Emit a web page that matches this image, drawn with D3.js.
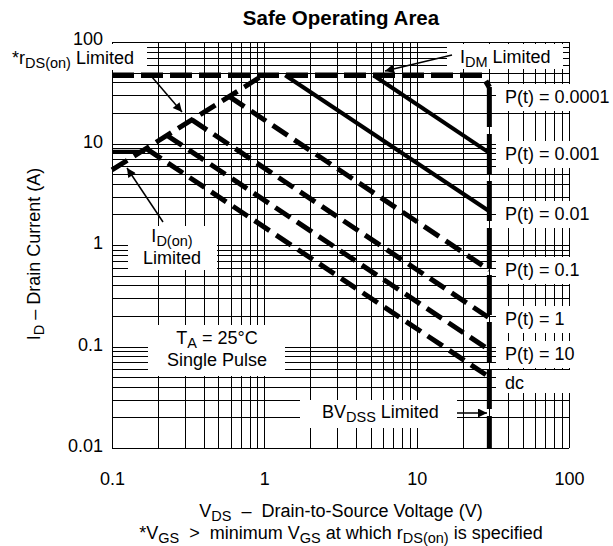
<!DOCTYPE html>
<html>
<head>
<meta charset="utf-8">
<title>Safe Operating Area</title>
<script src="https://cdn.jsdelivr.net/npm/d3@7"></script>
<style>
  body{margin:0;background:#fff;}
  svg text{font-family:"Liberation Sans",Arial,Helvetica,sans-serif;fill:#000;white-space:pre;}
  .grid line{stroke:#000;stroke-width:1;shape-rendering:crispEdges;}
</style>
</head>
<body>
<svg id="chart" width="613" height="546"></svg>
<script>
// values (V in volts, I in amps)
const xTicks = [0.1, 1, 10, 100];
const yTicks = [0.01, 0.1, 1, 10, 100];
const idmLine = [[0.1, 47], [27, 47], [30, 36]];
const bvdssLine = [[30, 36], [30, 0.01]];
const rdsLine = [[0.1, 5.5], [0.98, 47]];
const idonLine = [[0.1, 8.3], [0.165, 8.3]];
const solidLines = [
  [[5.2, 47], [30, 8.1]],
  [[1.37, 47], [30, 2.15]]
];
const dashedLines = [
  [[0.59, 29], [30, 0.567]],
  [[0.335, 17.1], [30, 0.191]],
  [[0.23, 12], [30, 0.0924]],
  [[0.168, 8.9], [30, 0.05]]
];
const pLabels = ["P(t) = 0.0001", "P(t) = 0.001", "P(t) = 0.01", "P(t) = 0.1", "P(t) = 1", "P(t) = 10", "dc"];

const svg = d3.select("#chart");
const pl = 112, pr = 569, pt = 42, pb = 448;
const fs = 18, sub = 14.5;

const x = d3.scaleLog().domain([0.1, 100]).range([pl, pr]);
const y = d3.scaleLog().domain([0.01, 100]).range([pb, pt]);

// log grid: 1..9 in every decade
const gx = [], gy = [];
[0.1, 1, 10].forEach(d => { for (let k = 1; k < 10; k++) gx.push(d * k); });
gx.push(100);
[0.01, 0.1, 1, 10].forEach(d => { for (let k = 1; k < 10; k++) gy.push(d * k); });
gy.push(100);

const grid = svg.append("g").attr("class", "grid");
grid.selectAll(".v").data(gx).enter().append("line")
  .attr("x1", d => Math.round(x(d)) + 0.5).attr("x2", d => Math.round(x(d)) + 0.5)
  .attr("y1", pt).attr("y2", pb);
grid.selectAll(".h").data(gy).enter().append("line")
  .attr("y1", d => Math.round(y(d)) + 0.5).attr("y2", d => Math.round(y(d)) + 0.5)
  .attr("x1", pl).attr("x2", pr);

// white boxes behind the notes
const labelBase = [103, 160, 220, 276, 325, 360, 389];
const boxes = [
  [0, 44, 147, 70],      // rDS(on) limited
  [447, 44, 563, 69],    // IDM limited
  [128, 226, 217, 270],  // ID(on) limited
  [148, 325, 285, 376],  // TA
  [300, 400, 457, 428]   // BVDSS
];
labelBase.forEach((b, i) => boxes.push([496, b - 19, 613, b + (i == 6 ? 4 : 8)]));
svg.append("g").selectAll("rect").data(boxes).enter().append("rect")
  .attr("x", d => d[0]).attr("y", d => d[1])
  .attr("width", d => d[2] - d[0]).attr("height", d => d[3] - d[1])
  .attr("fill", "#fff");

const line = d3.line().x(d => x(d[0])).y(d => y(d[1]));

svg.append("path").datum(idmLine).attr("d", line)
  .attr("fill", "none").attr("stroke", "#000").attr("stroke-width", 5.5)
  .attr("stroke-dasharray", "22,7");
svg.append("path").datum(bvdssLine).attr("d", line)
  .attr("fill", "none").attr("stroke", "#000").attr("stroke-width", 5)
  .attr("stroke-dasharray", "40,7");
svg.append("path").datum(rdsLine).attr("d", line)
  .attr("fill", "none").attr("stroke", "#000").attr("stroke-width", 5)
  .attr("stroke-dasharray", "18,8");
svg.append("path").datum(idonLine).attr("d", line)
  .attr("fill", "none").attr("stroke", "#000").attr("stroke-width", 4);

svg.append("g").selectAll("path").data(solidLines).enter().append("path")
  .attr("d", line).attr("fill", "none").attr("stroke", "#000").attr("stroke-width", 4);
svg.append("g").selectAll("path").data(dashedLines).enter().append("path")
  .attr("d", line).attr("fill", "none").attr("stroke", "#000").attr("stroke-width", 5)
  .attr("stroke-dasharray", "18,8");

// arrows
svg.append("defs").append("marker")
  .attr("id", "ah").attr("viewBox", "0 0 10 10").attr("refX", 10).attr("refY", 5)
  .attr("markerWidth", 13).attr("markerHeight", 9).attr("markerUnits", "userSpaceOnUse")
  .attr("orient", "auto")
  .append("path").attr("d", "M0,0L10,5L0,10z").attr("fill", "#000");
const arrows = [
  [152, 77, 182, 112],
  [452, 55, 385, 71],
  [163, 222, 127, 168],
  [457, 413, 487, 413]
];
svg.append("g").selectAll("line").data(arrows).enter().append("line")
  .attr("x1", d => d[0]).attr("y1", d => d[1]).attr("x2", d => d[2]).attr("y2", d => d[3])
  .attr("stroke", "#000").attr("stroke-width", 1.5).attr("marker-end", "url(#ah)");

// axes
const yAxis = svg.append("g").attr("transform", `translate(${pl},0)`)
  .call(d3.axisLeft(y).tickValues(yTicks).tickSize(0).tickPadding(9).tickFormat(d3.format("~g")));
const xAxis = svg.append("g").attr("transform", `translate(0,${pb})`)
  .call(d3.axisBottom(x).tickValues(xTicks).tickSize(0).tickPadding(24).tickFormat(d3.format("~g")));
[yAxis, xAxis].forEach(a => {
  a.select(".domain").remove();
  a.selectAll("text").attr("font-size", fs).attr("font-family", null);
});
yAxis.selectAll("text").attr("dy", d => d == 100 ? "0.12em" : "0.22em");

// text with subscripts: parts are [text, isSub]
function rich(sel, parts) {
  let shifted = false;
  parts.forEach(p => {
    const t = sel.append("tspan").text(p[0]);
    if (p[1]) { t.attr("font-size", sub).attr("dy", 3.5); shifted = true; }
    else if (shifted) { t.attr("dy", -3.5); shifted = false; }
  });
  return sel;
}
function note(px, py, anchor) {
  return svg.append("text").attr("x", px).attr("y", py)
    .attr("font-size", fs).attr("text-anchor", anchor || "start");
}

svg.append("text").attr("x", 341).attr("y", 25).attr("text-anchor", "middle")
  .attr("font-size", 20.5).attr("font-weight", "bold").text("Safe Operating Area");

rich(note(12, 64), [["*r"], ["DS(on)", 1], [" Limited"]]);
rich(note(460, 63), [["I"], ["DM", 1], [" Limited"]]);
rich(note(172, 242, "middle"), [["I"], ["D(on)", 1]]);
note(172, 264, "middle").text("Limited");
rich(note(217, 344, "middle"), [["T"], ["A", 1], [" = 25\u00b0C"]]);
note(217, 366, "middle").text("Single Pulse");
rich(note(322, 418), [["BV"], ["DSS", 1], [" Limited"]]);

svg.append("g").selectAll("text").data(pLabels).enter().append("text")
  .attr("x", 505).attr("y", (d, i) => labelBase[i]).attr("font-size", fs).text(d => d);

rich(svg.append("text").attr("transform", "translate(40,254) rotate(-90)")
  .attr("font-size", fs).attr("text-anchor", "middle"),
  [["I"], ["D", 1], [" \u2013 Drain Current (A)"]]);
rich(note(341, 517, "middle"),
  [["V"], ["DS", 1], ["  \u2013  Drain-to-Source Voltage (V)"]]);
rich(note(341, 539, "middle"),
  [["*V"], ["GS", 1], ["  >  minimum V"], ["GS", 1], [" at which r"], ["DS(on)", 1], [" is specified"]]);
</script>
</body>
</html>
